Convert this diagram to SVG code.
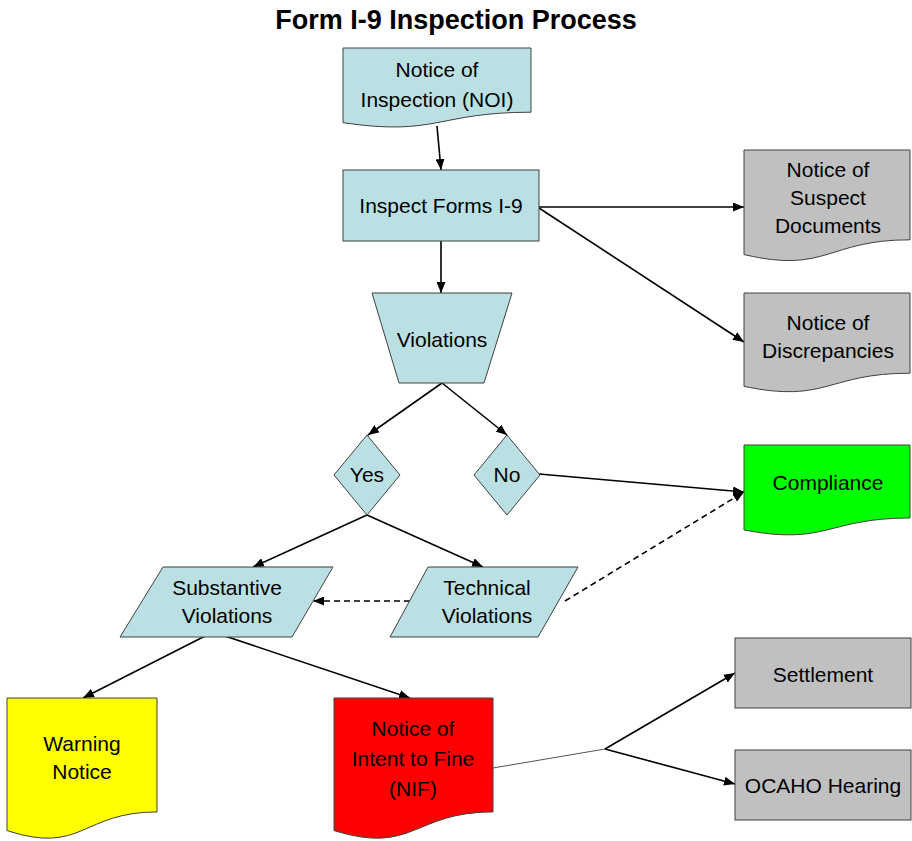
<svg xmlns="http://www.w3.org/2000/svg" width="912" height="841" viewBox="0 0 912 841">
<defs>
<marker id="arr" markerUnits="userSpaceOnUse" markerWidth="11" markerHeight="9" refX="11" refY="4.5" orient="auto"><path d="M0,0 L11,4.5 L0,9 z" fill="#000"/></marker>
<style>
.blue{fill:#BAE0E3;stroke:#404040;stroke-width:1}
.gray{fill:#C0C0C0;stroke:#404040;stroke-width:1}
.c{fill:none;stroke:#000;stroke-width:1.6;marker-end:url(#arr)}
.d{fill:none;stroke:#000;stroke-width:1.6;stroke-dasharray:6,4;marker-end:url(#arr)}
.t{font-family:"Liberation Sans",Arial,sans-serif;font-size:21px;fill:#000;text-anchor:middle}
.title{font-family:"Liberation Sans",Arial,sans-serif;font-size:27px;font-weight:bold;fill:#000;text-anchor:middle}
</style>
</defs>
<rect width="912" height="841" fill="#fff"/>
<text class="title" x="456" y="29">Form I-9 Inspection Process</text>
<g id="connectors">
<path class="c" d="M437,126 L441,170"/>
<path class="c" d="M441,241 L441,293"/>
<path class="c" d="M539,207 L744,207"/>
<path class="c" d="M539,208 L744,342"/>
<path class="c" d="M442,383 L368,435"/>
<path class="c" d="M442,383 L507,435"/>
<path class="c" d="M539,474 L744,492"/>
<path class="c" d="M367,515 L253,567"/>
<path class="c" d="M367,515 L483,567"/>
<path class="d" d="M410,601 L313,601"/>
<path class="d" d="M565,601 L744,492"/>
<path class="c" d="M213,632 L83,698"/>
<path class="c" d="M213,632 L410,698"/>
<path d="M493,768 L605,749" fill="none" stroke="#555" stroke-width="1"/>
<path class="c" d="M605,749 L735,673"/>
<path class="c" d="M605,749 L735,784"/>
</g>
<g id="noi">
<path class="blue" d="M343,48 H531 V112.2 C437,112.2 437,136.6 343,122.7 Z"/>
<text class="t" x="437" y="77">Notice of</text>
<text class="t" x="437" y="107">Inspection (NOI)</text>
</g>
<g id="inspect">
<rect class="blue" x="343" y="170" width="196" height="71"/>
<text class="t" x="441" y="213">Inspect Forms I-9</text>
</g>
<g id="suspect">
<path class="gray" d="M744,150 H910 V239.8 C827,239.8 827,274 744,254.6 Z"/>
<text class="t" x="828" y="177">Notice of</text>
<text class="t" x="828" y="205">Suspect</text>
<text class="t" x="828" y="233">Documents</text>
</g>
<g id="discrepancies">
<path class="gray" d="M744,293 H910 V373.2 C827,373.2 827,403.7 744,386.4 Z"/>
<text class="t" x="828" y="330">Notice of</text>
<text class="t" x="828" y="358">Discrepancies</text>
</g>
<g id="violations">
<path class="blue" d="M372,293 H512 L484,383 H399 Z"/>
<text class="t" x="442" y="347">Violations</text>
</g>
<g id="yes">
<path class="blue" d="M367,435 L400,475 L367,515 L334,475 Z"/>
<text class="t" x="367" y="482">Yes</text>
</g>
<g id="no">
<path class="blue" d="M507,435 L540,475 L507,515 L474,475 Z"/>
<text class="t" x="507" y="482">No</text>
</g>
<g id="compliance">
<path d="M744,445 H910 V518 C827,518 827,545.8 744,530 Z" fill="#00FF00" stroke="#404040" stroke-width="1"/>
<text class="t" x="828" y="490">Compliance</text>
</g>
<g id="substantive">
<path class="blue" d="M163,567 H333 L292,637 H120 Z"/>
<text class="t" x="227" y="595">Substantive</text>
<text class="t" x="227" y="623">Violations</text>
</g>
<g id="technical">
<path class="blue" d="M428,567 H578 L538,637 H390 Z"/>
<text class="t" x="487" y="595">Technical</text>
<text class="t" x="487" y="623">Violations</text>
</g>
<g id="warning">
<path d="M7,698 H157 V811.9 C82,811.9 82,855.3 7,830.6 Z" fill="#FFFF00" stroke="#404040" stroke-width="1"/>
<text class="t" x="82" y="751">Warning</text>
<text class="t" x="82" y="779">Notice</text>
</g>
<g id="nif">
<path d="M334,698 H493 V811.9 C413.5,811.9 413.5,855.3 334,830.6 Z" fill="#FF0000" stroke="#404040" stroke-width="1"/>
<text class="t" x="413" y="736">Notice of</text>
<text class="t" x="413" y="766">Intent to Fine</text>
<text class="t" x="413" y="796">(NIF)</text>
</g>
<g id="settlement">
<rect class="gray" x="735" y="638" width="176" height="70"/>
<text class="t" x="823" y="682">Settlement</text>
</g>
<g id="ocaho">
<rect class="gray" x="735" y="750" width="176" height="70"/>
<text class="t" x="823" y="793">OCAHO Hearing</text>
</g>
</svg>
